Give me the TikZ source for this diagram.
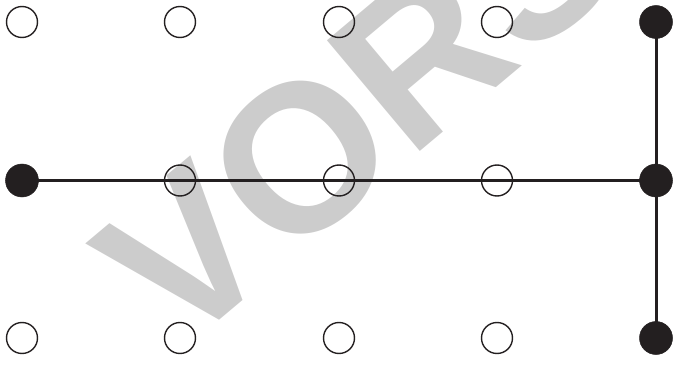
\documentclass[tikz,border=0pt]{standalone}
\usepackage{fontspec}
\newfontfamily\wmfont{Liberation Sans}
\definecolor{ink}{HTML}{231F20}
\definecolor{wm}{HTML}{CCCCCC}
\tikzset{
  opendot/.style={circle,draw=ink,line width=1.4pt,minimum size=31pt,inner sep=0pt},
  fulldot/.style={circle,fill=ink,draw=ink,line width=0.5pt,minimum size=33pt,inner sep=0pt},
  link/.style={draw=ink,line width=3pt},
  watermark/.style={text=wm,font=\wmfont\bfseries\fontsize{210}{210}\selectfont,rotate=40,anchor=base west,inner sep=0pt}
}
\begin{document}
\begin{tikzpicture}[x=1pt,y=1pt]
\useasboundingbox (0,0) rectangle (673,365);
\clip (0,0) rectangle (673,365);
\node[watermark] (wmk) at (177,9) {VORSCHAU};
\node[opendot] (a1) at (22,343) {};
\node[opendot] (a2) at (180,343) {};
\node[opendot] (a3) at (339,343) {};
\node[opendot] (a4) at (497,343) {};
\node[fulldot] (a5) at (656,343) {};
\node[fulldot] (b1) at (22,184.5) {};
\node[opendot] (b2) at (180,184.5) {};
\node[opendot] (b3) at (339,184.5) {};
\node[opendot] (b4) at (497,184.5) {};
\node[fulldot] (b5) at (656,184.5) {};
\node[opendot] (d1) at (22,27) {};
\node[opendot] (d2) at (180,27) {};
\node[opendot] (d3) at (339,27) {};
\node[opendot] (d4) at (497,27) {};
\node[fulldot] (d5) at (656,27) {};
\draw[link] (b1.center) -- (b5.center);
\draw[link] (a5.center) -- (d5.center);
\end{tikzpicture}
\end{document}
